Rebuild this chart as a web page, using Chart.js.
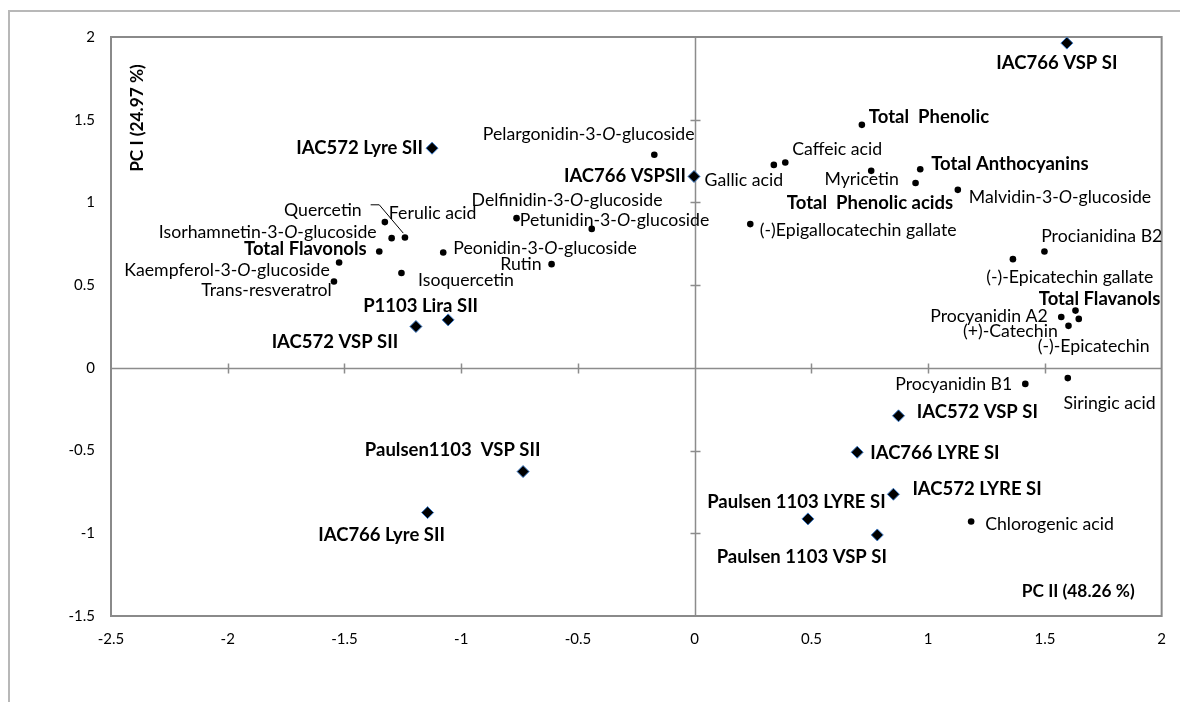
<!DOCTYPE html>
<html>
<head>
<meta charset="utf-8">
<script src="https://cdn.jsdelivr.net/npm/chart.js@4.4.1/dist/chart.umd.min.js"></script>
<style>
  html, body { margin: 0; padding: 0; background: #fff; overflow: hidden; }
  #wrap { position: relative; width: 1180px; height: 702px; }
  #frame { position: absolute; left: 8px; top: 10px; width: 1400px; height: 900px;
           border-left: 2px solid #b8b8b8; border-top: 2px solid #b8b8b8; pointer-events: none; }
  canvas { position: absolute; left: 0; top: 0; }
</style>
</head>
<body>
<div id="wrap">
  <canvas id="c" width="1180" height="702"></canvas>
  <div id="frame"></div>
</div>
<script>
// ---------- DATA ----------
const sampleNames = [
  "IAC766 VSP SI", "IAC572 Lyre SII", "IAC766 VSPSII", "P1103 Lira SII",
  "IAC572 VSP SII", "Paulsen1103  VSP SII", "IAC766 Lyre SII", "IAC572 VSP SI",
  "IAC766 LYRE SI", "IAC572 LYRE SI", "Paulsen 1103 LYRE SI", "Paulsen 1103 VSP SI"
];
const samplePC2 = [1.594, -1.125, -0.003, -1.056, -1.194, -0.735, -1.144, 0.873, 0.696, 0.851, 0.485, 0.782];
const samplePC1 = [1.963, 1.328, 1.157, 0.290, 0.250, -0.627, -0.875, -0.290, -0.510, -0.764, -0.913, -1.010];

const compoundNames = [
  "Pelargonidin-3-O-glucoside", "Gallic acid", "Caffeic acid", "Total  Phenolic",
  "Myricetin", "Total Anthocyanins", "Total  Phenolic acids", "Malvidin-3-O-glucoside",
  "(-)Epigallocatechin gallate", "Procianidina B2", "(-)-Epicatechin gallate", "Total Flavanols",
  "Procyanidin A2", "(+)-Catechin", "(-)-Epicatechin", "Procyanidin B1",
  "Siringic acid", "Chlorogenic acid", "Delfinidin-3-O-glucoside", "Petunidin-3-O-glucoside",
  "Peonidin-3-O-glucoside", "Rutin", "Isoquercetin", "Quercetin",
  "Ferulic acid", "Isorhamnetin-3-O-glucoside", "Total Flavonols", "Kaempferol-3-O-glucoside",
  "Trans-resveratrol"
];
const compoundPC2 = [-0.173, 0.339, 0.388, 0.716, 0.756, 0.966, 0.946, 1.127,
  0.238, 1.498, 1.363, 1.631, 1.570, 1.601, 1.645, 1.416,
  1.598, 1.184, -0.763, -0.441, -1.077, -0.613, -1.256, -1.241,
  -1.327, -1.298, -1.351, -1.523, -1.545];
const compoundPC1 = [1.288, 1.227, 1.241, 1.469, 1.191, 1.201, 1.117, 1.076,
  0.869, 0.703, 0.657, 0.346, 0.307, 0.254, 0.296, -0.097,
  -0.062, -0.929, 0.905, 0.840, 0.697, 0.627, 0.573, 0.788,
  0.881, 0.784, 0.703, 0.637, 0.522];

const xTicks = [-2.5, -2, -1.5, -1, -0.5, 0, 0.5, 1, 1.5, 2];
const yTicks = [-1.5, -1, -0.5, 0, 0.5, 1, 1.5, 2];
const xTitle = "PC II (48.26 %)";
const yTitle = "PC I (24.97 %)";

// ---------- LABEL LAYOUT (pixel offsets from the mark: align, dx, dy) ----------
const sampleLabelLayout = [
  ["center", -10, 20], ["right", -9, 0], ["right", -8, 0], ["left", -85, -14],
  ["right", -17.7, 16], ["right", 17.4, -21.7], ["right", 17.3, 22.3], ["left", 18.3, -4.3],
  ["left", 13, 1], ["left", 19, -5], ["right", 77.7, -17.3], ["right", 9.6, 22.3]
];
const compoundLabelLayout = [
  ["right", 40.3, -20], ["left", -69.3, 15], ["left", 7, -13.4], ["left", 7, -7.7],
  ["left", -46.7, 8], ["left", 11, -5.3], ["left", -128.7, 20], ["left", 11, 7.3],
  ["left", 9.5, 5.7], ["left", -3.3, -15.7], ["left", -26.7, 18], ["left", -36.7, -11.7],
  ["right", -13.4, -0.6], ["right", -10.7, 5.7], ["left", -41, 27], ["right", -13, 0],
  ["left", -4.3, 25], ["left", 14, 2.3], ["left", -45, -18.3], ["left", -72, -9],
  ["left", 10, -4.4], ["right", -10, 0], ["left", 16.6, 7.7], ["right", -43.3, -27.7],
  ["left", 4, -9], ["right", -15, -5.6], ["right", -12.6, -2.4], ["right", -9.3, 8],
  ["right", -2.3, 8.3]
];
const boldCompounds = ["Total  Phenolic", "Total Anthocyanins", "Total  Phenolic acids", "Total Flavanols", "Total Flavonols"];
// leader line for Quercetin (pixel offsets relative to its mark)
const leaderLines = { "Quercetin": [[-34.3, -32.7], [-25.7, -32.7], [-1.7, -4.4]] };

const FONT = "Lato";
const LABEL_SIZE = 17.7;
const BOLD_SIZE = 18.5;
const TITLE_SIZE = 17.3;

function drawRich(ctx, text, x, y, align, bold, size) {
  const w = bold ? "bold " : "";
  const parts = text.split(/(?<=-)(O)(?=-)/);
  const segs = [];
  let total = 0;
  parts.forEach((p, i) => {
    const italic = (i % 2 === 1);
    const font = (italic ? "italic " : "") + w + size + "px " + FONT;
    ctx.font = font;
    const wd = ctx.measureText(p).width;
    segs.push({ p, font, wd });
    total += wd;
  });
  let sx = align === "left" ? x : align === "right" ? x - total : x - total / 2;
  ctx.textAlign = "left";
  ctx.textBaseline = "middle";
  segs.forEach(s => { ctx.font = s.font; ctx.fillText(s.p, sx, y); sx += s.wd; });
}

const pcaPlugin = {
  id: "pca",
  beforeDatasetsDraw(chart) {
    const { ctx, chartArea: a, scales: { x, y } } = chart;
    ctx.save();
    const x0 = Math.round(x.getPixelForValue(0)) + 0.5;
    const y0 = Math.round(y.getPixelForValue(0)) + 0.5;
    ctx.strokeStyle = "#8c8c8c";
    ctx.lineWidth = 1.5;
    ctx.beginPath();
    ctx.moveTo(a.left, y0); ctx.lineTo(a.right, y0);
    ctx.moveTo(x0, a.top); ctx.lineTo(x0, a.bottom);
    xTicks.forEach(v => {
      if (v <= x.min || v >= x.max || v === 0) return;
      const px = Math.round(x.getPixelForValue(v)) + 0.5;
      ctx.moveTo(px, y0 - 5); ctx.lineTo(px, y0 + 5);
    });
    yTicks.forEach(v => {
      if (v <= y.min || v >= y.max || v === 0) return;
      const py = Math.round(y.getPixelForValue(v)) + 0.5;
      ctx.moveTo(x0 - 5, py); ctx.lineTo(x0 + 5, py);
    });
    ctx.stroke();
    ctx.strokeStyle = "#8a8a8a";
    ctx.lineWidth = 2;
    ctx.strokeRect(a.left, a.top, a.right - a.left, a.bottom - a.top);
    ctx.restore();
  },
  afterDatasetsDraw(chart) {
    const { ctx, chartArea: a, scales: { x, y } } = chart;
    ctx.save();
    ctx.fillStyle = "#000";
    sampleNames.forEach((n, i) => {
      const px = x.getPixelForValue(samplePC2[i]);
      const py = y.getPixelForValue(samplePC1[i]);
      const [al, dx, dy] = sampleLabelLayout[i];
      drawRich(ctx, n, px + dx, py + dy, al, true, BOLD_SIZE);
    });
    compoundNames.forEach((n, i) => {
      const px = x.getPixelForValue(compoundPC2[i]);
      const py = y.getPixelForValue(compoundPC1[i]);
      const [al, dx, dy] = compoundLabelLayout[i];
      const b = boldCompounds.includes(n);
      drawRich(ctx, n, px + dx, py + dy, al, b, b ? BOLD_SIZE : LABEL_SIZE);
      if (leaderLines[n]) {
        ctx.beginPath();
        ctx.strokeStyle = "#000"; ctx.lineWidth = 1;
        leaderLines[n].forEach(([ox, oy], k) => {
          if (k === 0) ctx.moveTo(px + ox, py + oy); else ctx.lineTo(px + ox, py + oy);
        });
        ctx.stroke();
      }
    });
    drawRich(ctx, xTitle, a.right - 27, a.bottom - 25, "right", true, TITLE_SIZE);
    ctx.save();
    ctx.translate(a.left + 26, a.top + 81);
    ctx.rotate(-Math.PI / 2);
    drawRich(ctx, yTitle, 0, 0, "center", true, TITLE_SIZE);
    ctx.restore();
    ctx.restore();
  }
};

const chart = new Chart(document.getElementById("c"), {
  type: "scatter",
  data: {
    datasets: [
      {
        label: "Samples",
        data: samplePC2.map((v, i) => ({ x: v, y: samplePC1[i] })),
        pointStyle: "rectRot",
        pointRadius: 6,
        pointHoverRadius: 6,
        backgroundColor: "#000",
        borderColor: "#3d7cc9",
        borderWidth: 1
      },
      {
        label: "Compounds",
        data: compoundPC2.map((v, i) => ({ x: v, y: compoundPC1[i] })),
        pointStyle: "circle",
        pointRadius: 3.3,
        pointHoverRadius: 3.3,
        backgroundColor: "#000",
        borderColor: "#000",
        borderWidth: 0
      }
    ]
  },
  options: {
    responsive: false,
    animation: false,
    events: [],
    layout: { padding: { top: 37, right: 18, left: 0, bottom: 0 } },
    plugins: { legend: { display: false }, tooltip: { enabled: false } },
    scales: {
      x: {
        type: "linear", min: xTicks[0], max: xTicks[xTicks.length - 1],
        afterBuildTicks: s => { s.ticks = xTicks.map(v => ({ value: v })); },
        grid: { display: false, drawTicks: false },
        border: { display: false },
        ticks: { padding: 14, color: "#000", font: { family: FONT, size: 15 }, maxRotation: 0, autoSkip: false,
                 callback: v => String(v) },
        afterFit: s => { s.height = 702 - 616; }
      },
      y: {
        type: "linear", min: yTicks[0], max: yTicks[yTicks.length - 1],
        afterBuildTicks: s => { s.ticks = yTicks.map(v => ({ value: v })); },
        grid: { display: false, drawTicks: false },
        border: { display: false },
        ticks: { padding: 16, color: "#000", font: { family: FONT, size: 15 }, autoSkip: false,
                 callback: v => String(v) },
        afterFit: s => { s.width = 111; }
      }
    }
  },
  plugins: [pcaPlugin]
});
</script>
</body>
</html>
